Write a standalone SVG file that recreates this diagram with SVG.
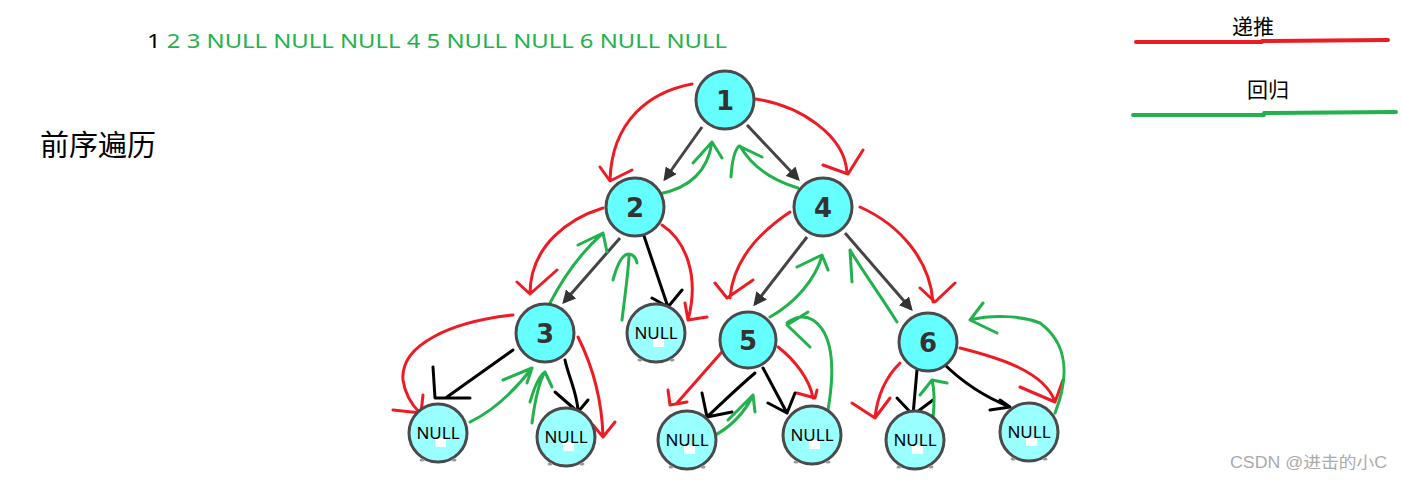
<svg xmlns="http://www.w3.org/2000/svg" width="1402" height="480" viewBox="0 0 1402 480">
<defs>
<marker id="gh" viewBox="0 0 10 10" refX="8" refY="5" markerWidth="4.5" markerHeight="4.5" orient="auto"><path d="M0,0 L10,5 L0,10 z" fill="#333"/></marker>
</defs>
<style>
.n circle{fill:#66ffff;stroke:#4a4a4a;stroke-width:3}
.z circle{fill:#99ffff;stroke:#4a4a4a;stroke-width:3}
.n text{font-family:"DejaVu Sans",sans-serif;font-weight:bold;font-size:26px;fill:#333;text-anchor:middle}
.z text{font-family:"Noto Sans",sans-serif;font-size:17px;fill:#000;text-anchor:middle}
.ft{fill:#999}
.g{stroke:#444;stroke-width:3;fill:none;marker-end:url(#gh)}
.r{stroke:#ed1c24;stroke-width:3;fill:none;stroke-linecap:round;stroke-linejoin:round}
.gr{stroke:#22b14c;stroke-width:3;fill:none;stroke-linecap:round;stroke-linejoin:round}
.k{stroke:#000;stroke-width:3;fill:none;stroke-linecap:round;stroke-linejoin:round}
</style>
<rect width="1402" height="480" fill="#fff"/>
<text x="147" y="48" font-family="Noto Sans, sans-serif" font-size="19" textLength="580" lengthAdjust="spacingAndGlyphs"><tspan fill="#000">1</tspan><tspan fill="#22b14c"> 2 3 NULL NULL NULL 4 5 NULL NULL 6 NULL NULL</tspan></text>
<text x="40" y="156" font-family="Noto Sans CJK SC, sans-serif" font-size="29" fill="#000">前序遍历</text>
<g id="legend">
<text x="1253" y="34" font-family="Noto Sans CJK SC, sans-serif" font-size="21" text-anchor="middle" fill="#000">递推</text>
<path d="M1136,42 L1262,42 M1262,41 L1388,40" stroke="#ed1c24" stroke-width="4" stroke-linecap="round" fill="none"/>
<text x="1268" y="97" font-family="Noto Sans CJK SC, sans-serif" font-size="21" text-anchor="middle" fill="#000">回归</text>
<path d="M1133,115 L1264,115 M1264,113 L1396,112" stroke="#22b14c" stroke-width="4" stroke-linecap="round" fill="none"/>
</g>
<text x="1230" y="468" font-family="Liberation Sans, Noto Sans CJK SC, sans-serif" font-size="16" fill="#aaa" textLength="157" lengthAdjust="spacingAndGlyphs">CSDN @进击的小C</text>

<g id="connectors">
<path class="g" d="M702,127 L665,179"/>
<path class="g" d="M747,125 L798,179"/>
<path class="g" d="M620,238 L564,302"/>
<path class="g" d="M807,237 L755,304"/>
<path class="g" d="M845,233 L911,309"/>

<path class="r" d="M692,84 C650,92 612,120 610,180 M600,167 L610,181 L632,170"/>
<path class="r" d="M756,99 C800,106 845,135 847,173 M823,165 L848,174 L863,150"/>
<path class="gr" d="M659,194 C690,188 708,170 712,142 M693,163 L712,142 L722,158"/>
<path class="gr" d="M798,188 C765,178 748,160 740,146 M731,177 C732,160 735,150 739,146 L762,157"/>

<path class="r" d="M603,208 C570,218 530,245 530,294 M517,282 L530,294 L557,270"/>
<path class="gr" d="M550,303 C562,280 578,255 603,233 M578,245 L603,233 L607,252"/>
<path class="gr" d="M622,320 C625,295 628,275 629,256 M613,280 C617,265 622,255 628,254 C633,254 636,258 637,263"/>
<path class="k" d="M643,233 L668,307 M652,298 L668,307 L682,290"/>
<path class="r" d="M662,225 C685,240 700,275 688,320 M685,303 L688,320 L707,317"/>

<path class="r" d="M513,315 C450,322 400,345 403,380 C405,395 412,405 420,413 M393,410 L421,413 L423,395"/>
<path class="k" d="M513,350 L447,397 M433,367 L435,398 L470,398"/>
<path class="gr" d="M470,422 C495,410 515,390 532,368 M503,380 L532,368 L527,383"/>
<path class="gr" d="M532,423 C535,400 540,380 545,372 M530,402 C535,385 540,375 545,372 L552,387"/>
<path class="k" d="M565,360 C568,375 578,395 578,412 M555,392 L578,412 L588,400"/>
<path class="r" d="M578,337 C592,365 602,400 603,437 M593,425 L603,437 L615,422"/>

<path class="r" d="M790,212 C760,232 733,260 730,298 M715,283 L727,298 L753,280"/>
<path class="gr" d="M770,317 C795,303 815,280 822,256 M797,267 L822,255 L828,270"/>
<path class="gr" d="M897,322 C880,295 862,270 850,250 M852,282 L850,250"/>
<path class="r" d="M860,207 C900,225 930,260 933,302 M920,288 L935,302 L955,283"/>

<path class="gr" d="M828,410 C834,375 835,335 813,320 C803,314 793,318 787,323 M808,312 L787,325 L810,347"/>
<path class="r" d="M778,347 C795,360 810,380 813,398 M797,393 L815,398 L817,390"/>
<path class="k" d="M763,368 L787,413 M768,403 L787,413 L795,393"/>
<path class="r" d="M728,345 L677,403 M668,390 L670,405 L687,402"/>
<path class="k" d="M755,373 C735,390 720,405 707,417 M702,393 L707,417 L732,412"/>
<path class="gr" d="M710,438 C730,428 745,412 753,395 M728,420 L753,395 L755,412"/>

<path class="r" d="M900,363 C885,378 877,398 875,418 M852,403 L875,418 L890,398"/>
<path class="k" d="M917,370 L913,415 M897,398 L913,415 L933,400"/>
<path class="gr" d="M933,418 C935,400 934,388 932,380 M920,395 L932,380 L947,383"/>
<path class="k" d="M943,363 C960,380 980,395 1010,407 M990,410 L1010,407 L1000,400"/>
<path class="r" d="M960,348 C1000,358 1045,372 1055,402 M1020,387 L1055,402 L1063,380"/>
<path class="gr" d="M1055,413 C1068,380 1070,345 1040,323 C1020,315 990,315 970,320 M983,303 L970,320 L997,333"/>
</g>

<g id="node1" class="n"><circle cx="725" cy="100" r="29"/><text x="725" y="110">1</text></g>
<g id="node2" class="n"><circle cx="635" cy="207" r="29"/><text x="635" y="217">2</text></g>
<g id="node4" class="n"><circle cx="823" cy="207" r="29"/><text x="823" y="217">4</text></g>
<g id="node3" class="n"><circle cx="545" cy="333" r="29"/><text x="545" y="343">3</text></g>
<g id="node5" class="n"><circle cx="748" cy="340" r="28"/><text x="748" y="350">5</text></g>
<g id="node6" class="n"><circle cx="928" cy="342" r="29"/><text x="928" y="352">6</text></g>

<g id="null2r" class="z"><circle cx="656" cy="333" r="29"/><rect x="653" y="338" width="11" height="9" fill="#fff"/><text x="656" y="339">NULL</text><ellipse class="ft" cx="640" cy="360" rx="2.5" ry="1.5"/><ellipse class="ft" cx="672" cy="360" rx="2.5" ry="1.5"/></g>
<g id="null3l" class="z"><circle cx="438" cy="433" r="29"/><rect x="435" y="438" width="11" height="9" fill="#fff"/><text x="438" y="439">NULL</text><ellipse class="ft" cx="422" cy="460" rx="2.5" ry="1.5"/><ellipse class="ft" cx="454" cy="460" rx="2.5" ry="1.5"/></g>
<g id="null3r" class="z"><circle cx="566" cy="437" r="29"/><rect x="563" y="442" width="11" height="9" fill="#fff"/><text x="566" y="443">NULL</text><ellipse class="ft" cx="550" cy="464" rx="2.5" ry="1.5"/><ellipse class="ft" cx="582" cy="464" rx="2.5" ry="1.5"/></g>
<g id="null5l" class="z"><circle cx="687" cy="440" r="29"/><rect x="684" y="445" width="11" height="9" fill="#fff"/><text x="687" y="446">NULL</text><ellipse class="ft" cx="671" cy="467" rx="2.5" ry="1.5"/><ellipse class="ft" cx="703" cy="467" rx="2.5" ry="1.5"/></g>
<g id="null5r" class="z"><circle cx="812" cy="435" r="29"/><rect x="809" y="440" width="11" height="9" fill="#fff"/><text x="812" y="441">NULL</text><ellipse class="ft" cx="796" cy="462" rx="2.5" ry="1.5"/><ellipse class="ft" cx="828" cy="462" rx="2.5" ry="1.5"/></g>
<g id="null6l" class="z"><circle cx="915" cy="440" r="29"/><rect x="912" y="445" width="11" height="9" fill="#fff"/><text x="915" y="446">NULL</text><ellipse class="ft" cx="899" cy="467" rx="2.5" ry="1.5"/><ellipse class="ft" cx="931" cy="467" rx="2.5" ry="1.5"/></g>
<g id="null6r" class="z"><circle cx="1029" cy="432" r="29"/><rect x="1026" y="437" width="11" height="9" fill="#fff"/><text x="1029" y="438">NULL</text><ellipse class="ft" cx="1013" cy="459" rx="2.5" ry="1.5"/><ellipse class="ft" cx="1045" cy="459" rx="2.5" ry="1.5"/></g>
</svg>
